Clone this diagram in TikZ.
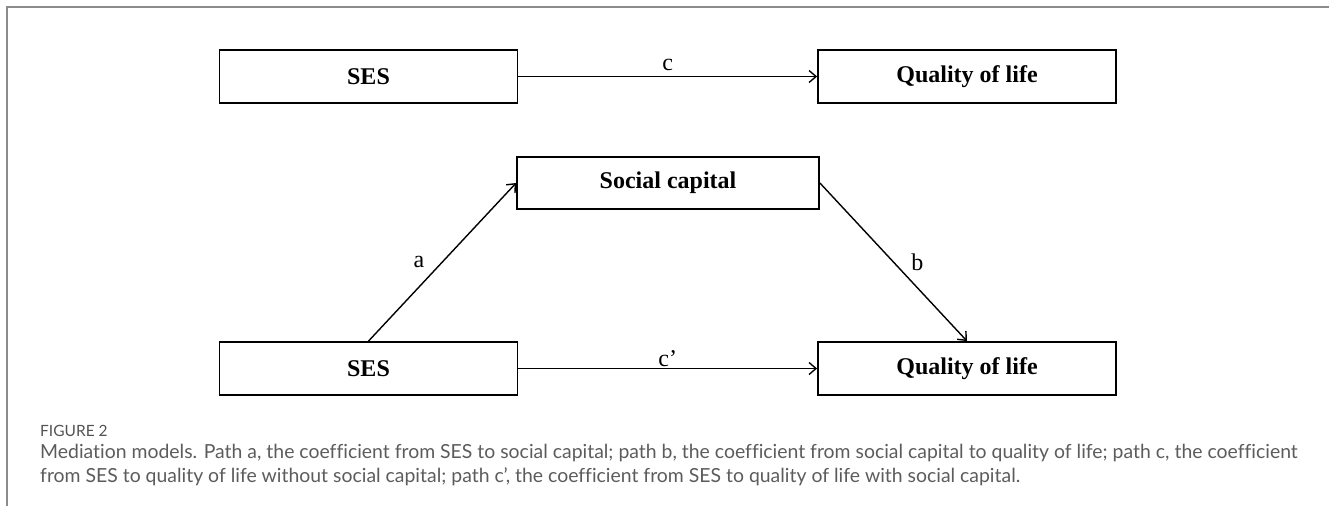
\documentclass[tikz,border=0pt]{standalone}
\usepackage{fontspec}
\setmainfont{Liberation Serif}
\newfontfamily\captionfont[Ligatures={NoCommon}]{Lato}
\usetikzlibrary{
  arrows.meta
}
\definecolor{framegray}{HTML}{8C8C8C}
\definecolor{captiongray}{HTML}{5C5C5C}
\tikzset{
  % Shared values that are assigned to different keys in the styles below.
  globals/box width/.initial=298pt,
  globals/box height/.initial=53pt,
%
  % For the variable boxes.
  var box/.style={
    draw,
    line width=1.8pt,
    minimum width=\pgfkeysvalueof{/tikz/globals/box width},
    minimum height=\pgfkeysvalueof{/tikz/globals/box height},
    inner sep=0pt,
    font={\fontsize{24pt}{28pt}\selectfont\bfseries}},
%
  % For the paths between the boxes.
  path line/.style={
    line width=1.4pt,
    -{Straight Barb[length=7pt,width=12pt,line width=1.4pt]}},
%
  % For the path letters.
  path label/.style={
    font={\fontsize{24pt}{28pt}\selectfont}},
%
  % For the outer frame of the figure.
  frame line/.style={
    line width=2pt,
    framegray},
%
  % For the caption below the figure.
  caption text/.style={
    anchor=base west,
    inner sep=0pt,
    align=left,
    text=captiongray,
    font={\captionfont\fontsize{19.4pt}{24pt}\selectfont}}
}

\begin{document}
\begin{tikzpicture}[x=1pt,y=-1pt]
  \useasboundingbox (0,0) rectangle (1329,506);
  \draw[frame line] (7,506) -- (7,7) -- (1329,7);

  % Total effect.
  \node[var box] (sesTop) at (368.5,76.5) {SES};
  \node[var box] (qolTop) at (967,76.5) {Quality of life};
  \draw[path line] (sesTop) -- node[path label, above=2pt] (c) {c} (qolTop);

  % Mediated effect.
  \node[var box, minimum width=302pt, minimum height=52pt]
    (social) at (668,183) {Social capital};
  \node[var box] (sesBottom) at (368.5,368.5) {SES};
  \node[var box] (qolBottom) at (967,368.5) {Quality of life};
  \draw[path line] (sesBottom.north) -- node[path label, left=14pt] (a) {a} (social.west);
  \draw[path line] (social.east) -- node[path label, right=14pt] (b) {b} (qolBottom.north);
  \draw[path line] (sesBottom) -- node[path label, above=-2pt] (cPrime) {c’} (qolBottom);

  % Caption; the node's base is the baseline of its last line.
  \node[caption text, text=captiongray!90!black,
        font={\captionfont\fontsize{15.5pt}{16pt}\selectfont}] (figureNo) at (40,436) {FIGURE 2};
  \node[caption text] (captionBody) at (40,482)
    {Mediation models. Path a, the coefficient from SES to social capital; path b, the coefficient from social capital to quality of life; path c, the coefficient\\
     from SES to quality of life without social capital; path c’, the coefficient from SES to quality of life with social capital.};
\end{tikzpicture}
\end{document}
